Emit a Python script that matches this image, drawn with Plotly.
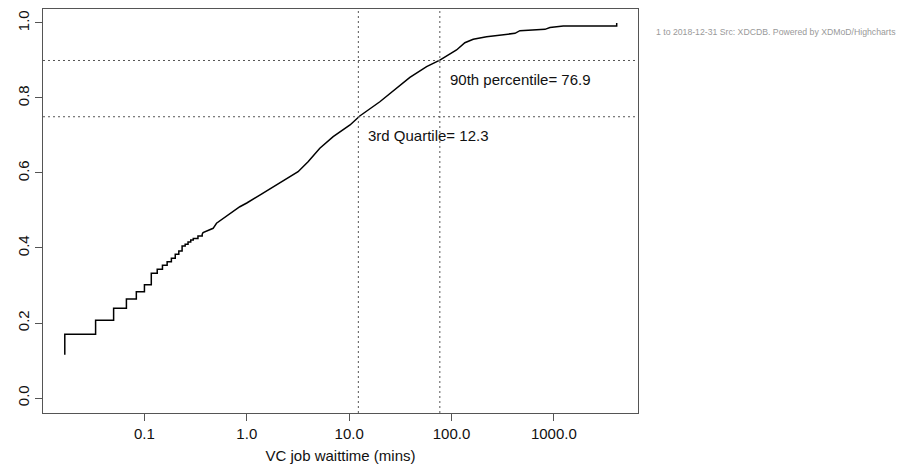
import math
import plotly.graph_objects as go

# ECDF of VC job wait time (minutes)
# discrete part (one-second resolution, drawn as steps)
step_wait_min = [1/60, 1/60, 2/60, 3/60, 4/60, 5/60, 6/60, 7/60, 8/60, 9/60, 10/60,
                 11/60, 12/60, 13/60, 14/60, 15/60, 16/60, 17/60, 18/60, 20/60, 22/60]
step_cdf = [0.115, 0.170, 0.207, 0.239, 0.264, 0.2835, 0.302, 0.3325, 0.343, 0.354, 0.363,
            0.3725, 0.383, 0.392, 0.405, 0.410, 0.416, 0.421, 0.425, 0.432, 0.437]
# dense part (appears as a continuous curve)
smooth_wait_min = [22/60, 0.374, 0.469, 0.506, 0.855, 1.0, 1.34, 2.10, 2.63, 3.17, 3.97, 5.17,
                   6.98, 10.2, 12.7, 19.95, 39.2, 57.1, 76.9, 112, 135, 163, 220, 320,
                   417, 466, 818, 916, 1236, 4111, 4111]
smooth_cdf = [0.437, 0.441, 0.4525, 0.466, 0.510, 0.520, 0.541, 0.5725, 0.5885, 0.6035, 0.630, 0.666,
              0.697, 0.728, 0.752, 0.790, 0.855, 0.8835, 0.901, 0.928, 0.9475, 0.9565, 0.9635, 0.968,
              0.9725, 0.9795, 0.983, 0.988, 0.992, 0.992, 1.0]

quantile_probs = [0.75, 0.90]
quantile_vals = [12.3, 76.9]
quantile_labels = ["3rd Quartile= 12.3", "90th percentile= 76.9"]

x_tickvals = [0.1, 1, 10, 100, 1000]
x_ticktext = ["0.1", "1.0", "10.0", "100.0", "1000.0"]
y_tickvals = [0.0, 0.2, 0.4, 0.6, 0.8, 1.0]
y_ticktext = ["0.0", "0.2", "0.4", "0.6", "0.8", "1.0"]

FONT = "Liberation Sans, Arial, Helvetica, sans-serif"
AXC = "#555555"

# the page body adds an 8px offset, so the figure is laid out 8px smaller
OFF = 8
W, H = 904 - OFF, 464 - OFF
L, R, T, B = 43 - OFF, 638 - OFF, 9 - OFF, 413 - OFF

fig = go.Figure()
fig.add_trace(go.Scatter(x=step_wait_min, y=step_cdf, mode="lines",
                         line=dict(color="black", width=1.5, shape="hv"),
                         hoverinfo="skip", showlegend=False))
fig.add_trace(go.Scatter(x=smooth_wait_min, y=smooth_cdf, mode="lines",
                         line=dict(color="black", width=1.5, shape="linear"),
                         hoverinfo="skip", showlegend=False))

for p, v, lab in zip(quantile_probs, quantile_vals, quantile_labels):
    fig.add_shape(type="line", xref="x domain", yref="y", x0=0, x1=1, y0=p, y1=p,
                  line=dict(color="#555555", width=1, dash="2px,3px"))
    fig.add_shape(type="line", xref="x", yref="y domain", x0=v, x1=v,
                  y0=0, y1=1, line=dict(color="#555555", width=1, dash="2px,3px"))
    fig.add_annotation(x=math.log10(v), y=p - 0.05, xref="x", yref="y", text=lab,
                       showarrow=False, xanchor="left", yanchor="middle", xshift=8,
                       font=dict(family=FONT, size=15, color="#111111"))

# credit text at top right
fig.add_annotation(x=(898 - OFF - L) / (R - L), y=(B - (32 - OFF)) / (B - T),
                   xref="paper", yref="paper",
                   text="1 to 2018-12-31 Src: XDCDB. Powered by XDMoD/Highcharts",
                   showarrow=False, xanchor="right", yanchor="middle",
                   font=dict(family=FONT, size=8.7, color="#999999"))

fig.update_layout(
    template="none",
    width=W, height=H,
    margin=dict(l=L, r=W - R, t=T, b=H - B, pad=0, autoexpand=False),
    paper_bgcolor="white", plot_bgcolor="white",
    font=dict(family=FONT, size=15, color="#111111"),
    xaxis=dict(type="log", range=[-1.991, 3.822], tickvals=x_tickvals, ticktext=x_ticktext,
               showgrid=False, zeroline=False, showline=True, mirror=True, automargin=False,
               linecolor=AXC, linewidth=1, ticks="outside", ticklen=7, tickcolor=AXC,
               tickfont=dict(size=15),
               title=dict(text="VC job waittime (mins)", font=dict(size=15))),
    yaxis=dict(range=[-0.04, 1.0373], tickvals=y_tickvals, ticktext=y_ticktext,
               showgrid=False, zeroline=False, showline=True, mirror=True, automargin=False,
               linecolor=AXC, linewidth=1, ticks="outside", ticklen=7, tickcolor=AXC,
               tickangle=-90, tickfont=dict(size=15)),
)

fig.write_html("out.html")
